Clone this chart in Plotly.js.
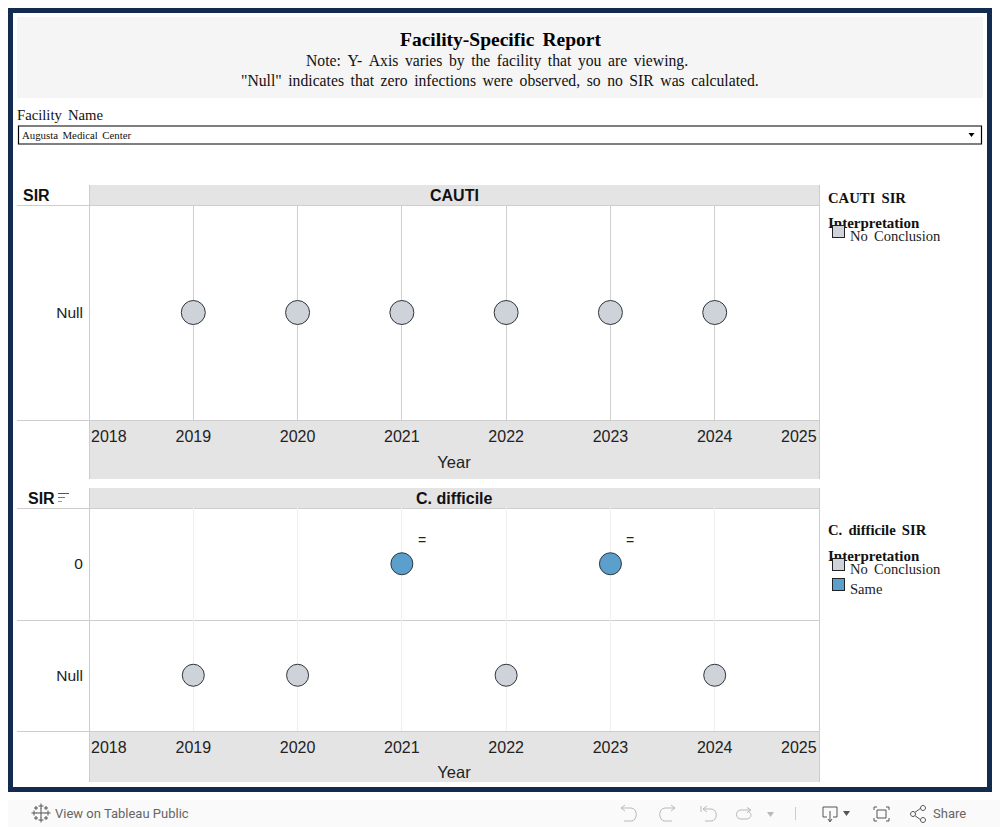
<!DOCTYPE html>
<html><head><meta charset="utf-8">
<script src="https://cdn.plot.ly/plotly-3.0.1.min.js"></script>
<style>html,body{margin:0;padding:0;background:#fff;overflow:hidden}#chart{width:1000px;height:827px}</style>
</head><body><div id="chart"></div>
<script>
// ---- data ----
const yearTicks = [2019, 2020, 2021, 2022, 2023, 2024];
const edgeYears = [2018, 2025];
const cautiCategories = ['Null'];
const cdiffCategories = ['Null', '0'];
const cautiNoConclusionYears = [2019, 2020, 2021, 2022, 2023, 2024];
const cautiNoConclusionSIR = ['Null', 'Null', 'Null', 'Null', 'Null', 'Null'];
const cdiffNoConclusionYears = [2019, 2020, 2022, 2024];
const cdiffNoConclusionSIR = ['Null', 'Null', 'Null', 'Null'];
const cdiffSameYears = [2021, 2023];
const cdiffSameSIR = ['0', '0'];
const cdiffSameLabels = ['=', '='];

const NAVY = '#122b4f', GREY = '#cdd3d8', BLUE = '#5b9fcd', EDGE = '#30363c';
const BAND = '#e4e4e4', RULE = '#cdcdcd';
const SERIF = '"Liberation Serif", serif', SANS = '"Liberation Sans", sans-serif', UI = 'Roboto, "Open Sans", sans-serif';
const W = 1000, H = 827;
const px = x => x / W, py = y => 1 - y / H;
const shapes = [], ann = [];

function rect(x0, y0, x1, y1, fill, line, lw) {
  shapes.push({type:'rect', xref:'paper', yref:'paper', x0:px(x0), x1:px(x1), y0:py(y0), y1:py(y1),
    fillcolor:fill || 'rgba(0,0,0,0)', line:{color:line || 'rgba(0,0,0,0)', width:line ? (lw || 1) : 0}, layer:'below'});
}
function line(x0, y0, x1, y1, c, w) {
  shapes.push({type:'line', xref:'paper', yref:'paper', x0:px(x0), x1:px(x1), y0:py(y0), y1:py(y1),
    line:{color:c, width:w || 1}, layer:'below'});
}
function path(d, c, w, fill) {
  let i = 0;
  const conv = d.replace(/-?\d+(\.\d+)?/g, n => (i++ % 2 === 0 ? px(+n) : py(+n)).toFixed(5));
  shapes.push({type:'path', xref:'paper', yref:'paper', path:conv, line:{color:c, width:w === undefined ? 1 : w},
    fillcolor:fill || 'rgba(0,0,0,0)', layer:'above'});
}
function circle(x, y, r, c, fill) {
  const k = r * 0.5523;
  path(`M${x-r} ${y} C${x-r} ${y-k} ${x-k} ${y-r} ${x} ${y-r} C${x+k} ${y-r} ${x+r} ${y-k} ${x+r} ${y} C${x+r} ${y+k} ${x+k} ${y+r} ${x} ${y+r} C${x-k} ${y+r} ${x-r} ${y+k} ${x-r} ${y} Z`, c, 1, fill);
}
function text(t, x, y, size, color, family, anchor, bold) {
  ann.push({xref:'paper', yref:'paper', x:px(x), y:py(y), text:bold ? '<b>' + t + '</b>' : t, showarrow:false,
    xanchor:anchor || 'left', yanchor:'middle', font:{size, color:color || '#000', family:family || SERIF},
    borderpad:0, borderwidth:0});
}
function swatch(x0, y0, x1, y1, fill) { // drawn over earlier text, as in the dashboard
  ann.push({xref:'paper', yref:'paper', x:px(x0), y:py(y0), xanchor:'left', yanchor:'top', text:' ', showarrow:false,
    width:x1 - x0 - 2, height:y1 - y0 - 2, bgcolor:fill, bordercolor:'#222', borderwidth:1, borderpad:0, font:{size:8}});
}
const wide = s => s.replace(/ /g, ' \u200A\u200A');

// frame + title band
rect(10.5, 10.5, 989.5, 789.5, '#fff', NAVY, 5);
rect(17, 17, 983, 98, '#f5f5f5');
text(wide('Facility-Specific Report'), 500, 40, 19.5, '#000', SERIF, 'center', true);
text(wide('Note: Y- Axis varies by the facility that you are viewing.'), 497, 61, 15.7, '#111', SERIF, 'center');
text(wide('"Null" indicates that zero infections were observed, so no SIR was calculated.'), 500, 80, 15.7, '#111', SERIF, 'center');

// filter
text(wide('Facility Name'), 17, 115, 14.7, '#111', SERIF);
rect(18.5, 126, 981.5, 144, '#fff', '#000', 1.2);
text(wide('Augusta Medical Center'), 22, 135.5, 10.8, '#111', SERIF);
path('M968.5 133 L974.5 133 L971.5 137 Z', '#000', 0, '#000');

// CAUTI panel furniture
rect(89, 185, 819, 205, BAND);
rect(89, 420, 819, 479, BAND);
line(17, 205.5, 819, 205.5, RULE);
line(17, 420.5, 819, 420.5, RULE);
line(89.5, 185, 89.5, 479, RULE);
line(819.5, 185, 819.5, 479, RULE);
text('SIR', 23, 195.5, 16, '#111', SANS, 'left', true);
text('CAUTI', 454, 195.5, 16, '#111', SANS, 'center', true);

// C. difficile panel furniture
rect(89, 488, 819, 508, BAND);
rect(89, 731, 819, 782, BAND);
line(17, 508.5, 819, 508.5, RULE);
line(17, 620.5, 819, 620.5, RULE);
line(17, 731.5, 819, 731.5, RULE);
line(89.5, 488, 89.5, 782, RULE);
line(819.5, 488, 819.5, 782, RULE);
text('SIR', 28, 498.5, 16, '#111', SANS, 'left', true);
text('C. difficile', 454, 498.5, 16, '#111', SANS, 'center', true);
line(58, 493.5, 69, 493.5, '#555'); line(58, 497.5, 65, 497.5, '#777'); line(58, 501.5, 62, 501.5, '#999');

// edge tick labels sit inside the band
[436.5, 747.5].forEach(y => {
  text(String(edgeYears[0]), 109, y, 16, '#222', SANS, 'center');
  text(String(edgeYears[1]), 799, y, 16, '#222', SANS, 'center');
});

// legends
text(wide('CAUTI SIR'), 828, 198, 14.7, '#111', SERIF, 'left', true);
text('Interpretation', 828, 223.5, 15, '#111', SERIF, 'left', true);
swatch(832, 225, 845, 238, GREY);
text(wide('No Conclusion'), 850, 236.5, 14.6, '#222', SERIF);
text(wide('C. difficile SIR'), 828, 530, 14.7, '#111', SERIF, 'left', true);
text('Interpretation', 828, 555.5, 15, '#111', SERIF, 'left', true);
swatch(832, 558, 845, 571, GREY);
text(wide('No Conclusion'), 850, 568.5, 14.6, '#222', SERIF);
swatch(832, 578, 845, 591, BLUE);
text('Same', 850, 588.5, 14.6, '#222', SERIF);

// value labels on the blue marks, tied to their data points
cdiffSameYears.forEach((yr, i) => ann.push({xref:'x2', yref:'y2', x:yr, y:cdiffCategories.indexOf(cdiffSameSIR[i]), text:cdiffSameLabels[i],
  showarrow:false, xshift:20, yshift:24, font:{size:14, color:'#222', family:SANS}}));

// toolbar
rect(8, 800, 1000, 827, '#fafafa');
text('View on Tableau Public', 55, 813.5, 13, '#666', UI);
text('Share', 933, 813.5, 13, '#666', UI);
const IC = '#b9b9b9', IC2 = '#555';
[[41,813,5],[41,806,2.5],[41,820,2.5],[34,813,2.5],[48,813,2.5],[36,808,2],[46,808,2],[36,818,2],[46,818,2]].forEach(([x,y,r]) => {
  path(`M${x-r} ${y} L${x+r} ${y} M${x} ${y-r} L${x} ${y+r}`, '#555', 1);
});
path('M621 808 L631 808 C638 808 638 821 631 821 L624 821', IC);
path('M621 808 L625 805 M621 808 L625 811', IC);
path('M675 808 L665 808 C658 808 658 821 665 821 L672 821', IC);
path('M675 808 L671 805 M675 808 L671 811', IC);
path('M701 806 L701 812 M703 809 L711 809 C718 809 718 821 711 821 L705 821', IC);
path('M703 809 L707 806 M703 809 L707 812', IC);
path('M750 810 L741 810 C735 810 735 819 741 819 L746 819 C752 819 752 813 749 812', IC);
path('M747 807.5 L751 810 L747 812.5', IC);
path('M767 812 L774 812 L770.5 817 Z', IC, 0, IC);
line(795.5, 807, 795.5, 820, '#cccccc');
path('M827 817 L823 817 L823 807 L837 807 L837 817 L833 817', IC2);
path('M830 811 L830 821 M828 819 L830 822 L832 819', IC2);
path('M843 811 L850 811 L846.5 816 Z', IC2, 0, IC2);
path('M874 810 L874 807 L877 807 M886 807 L889 807 L889 810 M889 818 L889 821 L886 821 M877 821 L874 821 L874 818', IC2);
rect(877, 810, 886, 818, 'rgba(0,0,0,0)', IC2, 1);
path('M914 813 L921 808 M914 815 L921 820', IC2);
[[913,814],[923,808],[923,820]].forEach(([x,y]) => circle(x, y, 2.5, IC2, '#fafafa'));

function xAxis(domain, anchor, grid, standoff) {
  return {domain, anchor, range:[2018, 2025], tickmode:'array', tickvals:yearTicks, ticktext:yearTicks.map(String),
    showgrid:true, gridcolor:grid, gridwidth:1, zeroline:false, showline:false, ticks:'outside', ticklen:2, tickcolor:'rgba(0,0,0,0)',
    tickfont:{size:16, color:'#222', family:SANS}, automargin:false,
    title:{text:'Year', font:{size:16.5, color:'#222', family:SANS}, standoff}};
}
function yAxis(domain, anchor, cats) {
  return {domain, anchor, type:'category', categoryorder:'array', categoryarray:cats, range:[-0.5, cats.length - 0.5],
    showgrid:false, zeroline:false, showline:false, ticks:'outside', ticklen:2, tickcolor:'rgba(0,0,0,0)',
    tickfont:{size:15.5, color:'#222', family:SANS}, automargin:false};
}
const mk = (c, s) => ({size:s, color:c, line:{color:EDGE, width:1}, opacity:1});
const data = [
  {type:'scatter', mode:'markers', name:'No Conclusion', x:cautiNoConclusionYears, y:cautiNoConclusionSIR, xaxis:'x', yaxis:'y', marker:mk(GREY, 24)},
  {type:'scatter', mode:'markers', name:'No Conclusion', x:cdiffNoConclusionYears, y:cdiffNoConclusionSIR, xaxis:'x2', yaxis:'y2', marker:mk(GREY, 22)},
  {type:'scatter', mode:'markers', name:'Same', x:cdiffSameYears, y:cdiffSameSIR, xaxis:'x2', yaxis:'y2', marker:mk(BLUE, 22)}
];
const layout = {
  width:W, height:H, margin:{l:0, r:0, t:0, b:0}, paper_bgcolor:'rgba(0,0,0,0)', plot_bgcolor:'rgba(0,0,0,0)', showlegend:false,
  xaxis:xAxis([px(89), px(819)], 'y', '#cfcfcf', 12),
  yaxis:yAxis([py(420), py(205)], 'x', cautiCategories),
  xaxis2:xAxis([px(89), px(819)], 'y2', '#efefef', 11),
  yaxis2:yAxis([py(731), py(508)], 'x2', cdiffCategories),
  shapes, annotations:ann, hovermode:false
};
Plotly.newPlot('chart', data, layout, {displayModeBar:false, staticPlot:true});
</script></body></html>
